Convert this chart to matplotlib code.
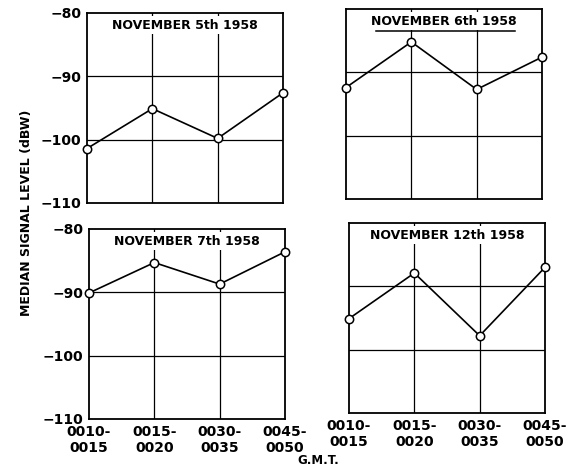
import matplotlib.pyplot as plt

plt.rcParams['font.family'] = ['DejaVu Sans']

# data
time_labels = ['0010-\n0015', '0015-\n0020', '0030-\n0035', '0045-\n0050']
titles = ['NOVEMBER 5th 1958', 'NOVEMBER 6th 1958',
          'NOVEMBER 7th 1958', 'NOVEMBER 12th 1958']
nov5 = [-101.4, -95.1, -99.8, -92.6]
nov6 = [-92.4, -85.2, -92.7, -87.6]
nov7 = [-90.1, -85.3, -88.7, -83.6]
nov12 = [-95.1, -87.9, -97.8, -87.0]
y_ticks = [-80, -90, -100, -110]

W, H = 581, 468
fig = plt.figure(figsize=(W / 100, H / 100), dpi=100)

# (left, top) of each panel in pixels
panels = [
    (87, 13, nov5, titles[0], False),
    (346, 9, nov6, titles[1], True),
    (89, 229, nov7, titles[2], False),
    (349, 223, nov12, titles[3], False),
]
pw, ph = 196, 190

for i, (lx, ty, vals, title, underline) in enumerate(panels):
    ax = fig.add_axes([lx / W, 1 - (ty + ph) / H, pw / W, ph / H])
    xs = list(range(len(vals)))
    ax.plot(xs, vals, color='black', lw=1.2, marker='o', ms=6,
            mfc='white', mec='black', mew=1.1, zorder=5, clip_on=False)
    ax.set_xlim(0, 3)
    ax.set_ylim(-110, -80)
    for x in [1, 2]:
        ax.axvline(x, color='black', lw=0.9, zorder=1)
    for y in [-90, -100]:
        ax.axhline(y, color='black', lw=0.9, zorder=1)
    for s in ax.spines.values():
        s.set_linewidth(1.3)
    ax.set_yticks(y_ticks)
    ax.set_xticks(xs)
    ax.tick_params(length=0, pad=4)
    if i % 2 == 0:
        ax.set_yticklabels(['\u2212' + str(-v) for v in y_ticks],
                           fontsize=10, fontweight='bold')
    else:
        ax.set_yticklabels([])
    if i >= 2:
        ax.set_xticklabels(time_labels, fontsize=10, fontweight='bold',
                           linespacing=1.25)
    else:
        ax.set_xticklabels([])
    ax.text(1.5, -81.9, title, ha='center', va='center', fontsize=9,
            fontweight='bold', zorder=4,
            bbox=dict(facecolor='white', edgecolor='none', pad=2))
    if underline:
        ax.plot([0.46, 2.59], [-83.4, -83.4], color='black', lw=1.1, zorder=6)

fig.text(27 / W, 1 - 213 / H, 'MEDIAN SIGNAL LEVEL (dBW)', rotation=90,
         ha='center', va='center', fontsize=9, fontweight='bold')
fig.text(318 / W, 1 - 460 / H, 'G.M.T.', ha='center', va='center',
         fontsize=8.5, fontweight='bold')

fig.savefig('out.png', dpi=100)
